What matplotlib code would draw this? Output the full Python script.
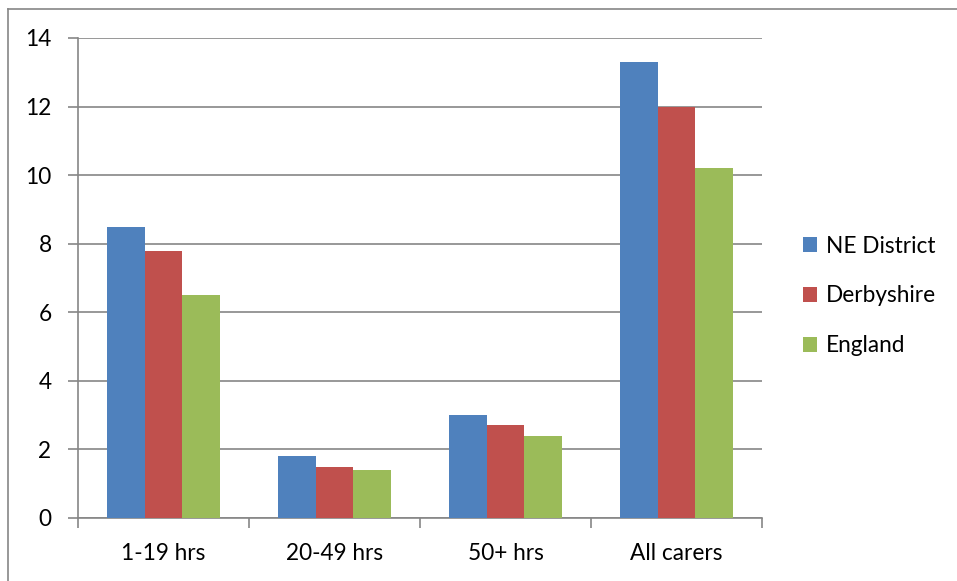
import matplotlib.pyplot as plt
import numpy as np
from matplotlib.lines import Line2D

categories = ["1-19 hrs", "20-49 hrs", "50+ hrs", "All carers"]
series_names = ["NE District", "Derbyshire", "England"]
ne_district = [8.5, 1.8, 3.0, 13.3]
derbyshire = [7.8, 1.5, 2.7, 12.0]
england = [6.5, 1.4, 2.4, 10.2]
y_ticks = [0, 2, 4, 6, 8, 10, 12, 14]

COLORS = ["#4F81BD", "#C0504D", "#9BBB59"]
GRID = "#868686"
FS = 16.3

plt.rcParams["font.family"] = ["Lato", "DejaVu Sans"]

fig = plt.figure(figsize=(9.57, 5.81), dpi=100)
ax = fig.add_axes([78 / 957, 1 - 518 / 581, 684 / 957, 480 / 581])

x = np.arange(len(categories))
bar_w = 0.222
for i, (name, vals) in enumerate(zip(series_names, [ne_district, derbyshire, england])):
    ax.bar(x + (i - 1) * bar_w, vals, width=bar_w, color=COLORS[i],
           label=name, zorder=3, linewidth=0)

ax.set_xlim(-0.5, len(categories) - 0.5)
ax.set_ylim(0, 14)
ax.set_yticks(y_ticks)
ax.set_yticklabels([str(t) for t in y_ticks])
ax.set_xticks(x)
ax.set_xticklabels(categories)
ax.set_xticks(np.arange(len(categories) + 1) - 0.5, minor=True)

ax.grid(axis="y", color=GRID, linewidth=1.2, zorder=0)
ax.set_axisbelow(True)
for side in ["top", "right"]:
    ax.spines[side].set_visible(False)
for side in ["left", "bottom"]:
    ax.spines[side].set_color(GRID)
    ax.spines[side].set_linewidth(1.2)

ax.tick_params(axis="y", length=7, color=GRID, width=1.2, labelsize=FS, pad=12)
ax.tick_params(axis="x", which="major", length=0, labelsize=FS, pad=18)
ax.tick_params(axis="x", which="minor", length=7, color=GRID, width=1.2)

fig.legend(*ax.get_legend_handles_labels(), loc="center left",
           bbox_to_anchor=(803 / 957, 1 - 296 / 581), frameon=False,
           fontsize=FS, handlelength=0.62, handleheight=0.62,
           handletextpad=0.4, labelspacing=1.28, borderaxespad=0, borderpad=0)

# outer chart-area border (top and left edges visible)
fig.add_artist(Line2D([8 / 957, 1.0], [1 - 9 / 581, 1 - 9 / 581],
                      color=GRID, linewidth=1.2, transform=fig.transFigure))
fig.add_artist(Line2D([8 / 957, 8 / 957], [0.0, 1 - 9 / 581],
                      color=GRID, linewidth=1.2, transform=fig.transFigure))

fig.savefig("out.png", dpi=100)
